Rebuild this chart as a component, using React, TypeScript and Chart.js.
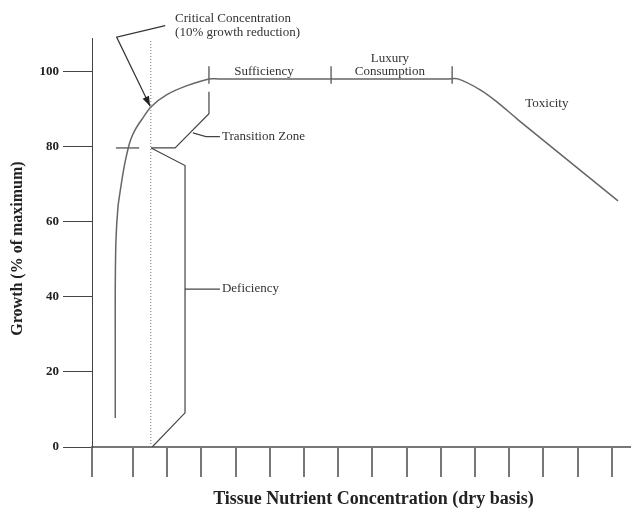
import React, { useEffect, useRef } from "react";
import { Chart, registerables } from "chart.js";

Chart.register(...registerables);

// ---- data (x in tick units of tissue concentration, y in % of maximum growth) ----
const xTicks = [-0.2, 1, 2, 3, 4, 5, 6, 7, 8, 9, 10, 11, 12, 13, 14, 15];
const yTicks = [0, 20, 40, 60, 80, 100];

const growthX = [0.48, 0.48, 0.48, 0.5, 0.56, 0.63, 0.71, 0.78, 0.86, 0.93, 1.06, 1.25, 1.53, 1.99, 2.58, 3.22, 3.5, 10.2, 10.5, 11.15, 11.64, 12.26, 15.18];
const growthY = [7.7, 30.9, 42.1, 54.9, 64.0, 68.5, 73.1, 76.5, 79.7, 81.9, 84.5, 87.2, 90.7, 93.9, 96.3, 98.1, 98.1, 98.1, 98.1, 95.2, 92, 87.2, 65.6];

const criticalX = [1.52, 1.52];
const criticalY = [0, 108.5];

const arrowX = [1.94, 0.52, 1.5];
const arrowY = [112.3, 109.25, 90.8];

const marker80X = [0.5, 1.18];
const marker80Y = [79.7, 79.7];

const transitionX = [3.22, 3.22, 2.23, 1.53];
const transitionY = [94.7, 88.8, 79.7, 79.7];

const transitionLeaderX = [2.75, 3.13, 3.54];
const transitionLeaderY = [83.7, 82.7, 82.7];

const deficiencyX = [1.53, 2.52, 2.52, 1.56];
const deficiencyY = [79.7, 75.0, 9.1, 0];

const deficiencyLeaderX = [2.52, 3.54];
const deficiencyLeaderY = [42.1, 42.1];

const boundaryX = [3.22, 6.79, 10.33];
const boundaryY = [96.8, 101.5];

const zip = (xs: number[], ys: number[]) => xs.map((x, i) => ({ x, y: ys[i] }));

const line = (data: { x: number; y: number }[], color: string, width: number, extra: any = {}) => ({
  data,
  showLine: true,
  borderColor: color,
  borderWidth: width,
  pointRadius: 0,
  pointHoverRadius: 0,
  fill: false,
  tension: 0,
  ...extra,
});

const ARROW_INDEX = 2;

const notesPlugin = {
  id: "notes",
  afterDatasetsDraw(chart: any) {
    const { ctx, scales } = chart;
    const xs = scales.x;
    const ys = scales.y;
    ctx.save();
    // arrow head
    const pts = chart.getDatasetMeta(ARROW_INDEX).data;
    const a = pts[pts.length - 2];
    const b = pts[pts.length - 1];
    const ang = Math.atan2(b.y - a.y, b.x - a.x);
    const L = 10;
    const W = 3.5;
    ctx.fillStyle = "#222";
    ctx.beginPath();
    ctx.moveTo(b.x, b.y);
    ctx.lineTo(b.x - L * Math.cos(ang) + W * Math.sin(ang), b.y - L * Math.sin(ang) - W * Math.cos(ang));
    ctx.lineTo(b.x - L * Math.cos(ang) - W * Math.sin(ang), b.y - L * Math.sin(ang) + W * Math.cos(ang));
    ctx.closePath();
    ctx.fill();

    // annotation labels
    const notes = [
      { t: "Critical Concentration", x: 2.23, y: 114.1, align: "left" },
      { t: "(10% growth reduction)", x: 2.23, y: 110.4, align: "left" },
      { t: "Sufficiency", x: 4.83, y: 100, align: "center" },
      { t: "Luxury", x: 8.51, y: 103.5, align: "center" },
      { t: "Consumption", x: 8.51, y: 100, align: "center" },
      { t: "Toxicity", x: 13.1, y: 91.5, align: "center" },
      { t: "Transition Zone", x: 3.6, y: 82.7, align: "left" },
      { t: "Deficiency", x: 3.6, y: 42.1, align: "left" },
    ];
    ctx.fillStyle = "#333";
    ctx.font = '13px "Liberation Serif"';
    ctx.textBaseline = "middle";
    for (const n of notes) {
      ctx.textAlign = n.align;
      ctx.fillText(n.t, xs.getPixelForValue(n.x), ys.getPixelForValue(n.y));
    }

    // axis titles
    const area = chart.chartArea;
    ctx.fillStyle = "#222";
    ctx.font = 'bold 18px "Liberation Serif"';
    ctx.textAlign = "center";
    ctx.textBaseline = "middle";
    ctx.fillText("Tissue Nutrient Concentration (dry basis)", (area.left + area.right) / 2 + 12, area.bottom + 52);
    ctx.save();
    ctx.translate(18, (area.top + area.bottom) / 2 + 6);
    ctx.rotate(-Math.PI / 2);
    ctx.font = 'bold 16px "Liberation Serif"';
    ctx.fillText("Growth (% of maximum)", 0, 0);
    ctx.restore();
    ctx.restore();
  },
};

export default function App() {
  const ref = useRef<HTMLCanvasElement>(null);
  useEffect(() => {
    const bracket = "#444";
    const datasets: any[] = [
      line(zip(growthX, growthY), "#666", 1.5, { tension: 0.3 }),
      line(zip(criticalX, criticalY), "#777", 1, { borderDash: [1, 2] }),
      line(zip(arrowX, arrowY), "#333", 1.2, { clip: false }),
      line(zip(marker80X, marker80Y), bracket, 1.2),
      line(zip(transitionX, transitionY), bracket, 1.2),
      line(zip(transitionLeaderX, transitionLeaderY), bracket, 1.2),
      line(zip(deficiencyX, deficiencyY), bracket, 1.2),
      line(zip(deficiencyLeaderX, deficiencyLeaderY), bracket, 1.2),
      ...boundaryX.map((bx) => line(zip([bx, bx], boundaryY), bracket, 1.2)),
    ];
    const chart = new Chart(ref.current!, {
      type: "scatter",
      data: { datasets },
      plugins: [notesPlugin],
      options: {
        animation: false,
        responsive: true,
        maintainAspectRatio: false,
        layout: { padding: { top: 38, left: 0, right: 0, bottom: 0 } },
        plugins: { legend: { display: false }, tooltip: { enabled: false } },
        events: [],
        scales: {
          x: {
            type: "linear",
            min: -0.2,
            max: 15.56,
            afterBuildTicks: (s: any) => {
              s.ticks = xTicks.map((v) => ({ value: v }));
            },
            afterFit: (s: any) => {
              s.height = 63;
            },
            grid: { drawOnChartArea: false, drawTicks: true, tickLength: 30, color: "#777", lineWidth: 2 },
            border: { display: true, color: "#777", width: 2 },
            ticks: { autoSkip: false, callback: () => "", padding: 0 },
          },
          y: {
            type: "linear",
            min: 0,
            max: 109,
            afterBuildTicks: (s: any) => {
              s.ticks = yTicks.map((v) => ({ value: v }));
            },
            afterFit: (s: any) => {
              s.width = 92;
            },
            grid: { drawOnChartArea: false, drawTicks: true, tickLength: 29, color: "#444", lineWidth: 1 },
            border: { display: true, color: "#444", width: 1 },
            ticks: {
              autoSkip: false,
              padding: 4,
              color: "#222",
              font: { family: '"Liberation Serif"', size: 13, weight: "bold" },
            },
          },
        },
      },
    });
    return () => chart.destroy();
  }, []);
  return (
    <div style={{ position: "absolute", left: 0, top: 0, width: 631, height: 510, background: "#fff" }}>
      <canvas ref={ref} />
    </div>
  );
}
